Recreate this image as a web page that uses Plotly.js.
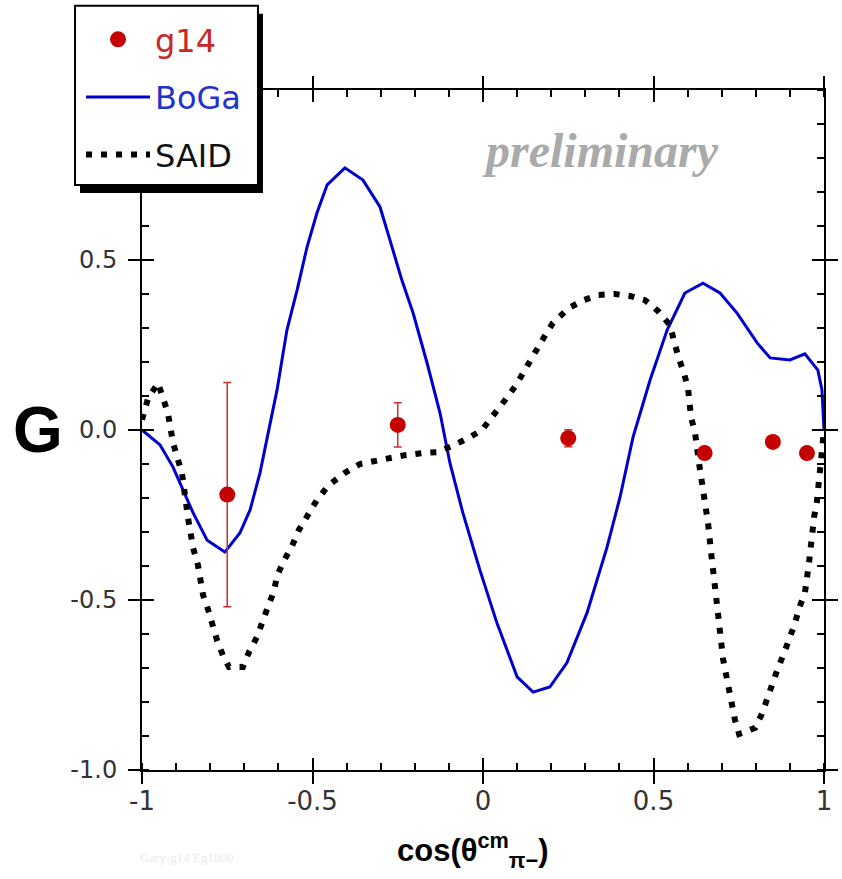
<!DOCTYPE html>
<html><head><meta charset="utf-8">
<script src="https://cdn.plot.ly/plotly-3.0.1.min.js"></script>
<style>html,body{margin:0;padding:0;background:#fff}</style>
</head><body><div id="chart" style="width:842px;height:879px"></div>
<script>
// ---- data ----
const g14Cos = [-0.75, -0.25, 0.25, 0.65, 0.85, 0.95];
const g14G   = [-0.19, 0.015, -0.024, -0.068, -0.035, -0.068];
const g14Err = [0.33, 0.065, 0.025, 0.008, 0.006, 0.006];

const bogaCos = [-1.0,-0.947,-0.909,-0.880,-0.850,-0.809,-0.757,-0.713,-0.683,-0.654,-0.633,-0.604,-0.575,-0.545,-0.516,-0.487,-0.457,-0.405,-0.352,-0.302,-0.273,-0.238,-0.205,-0.164,-0.126,-0.097,-0.059,-0.009,0.041,0.100,0.147,0.196,0.246,0.305,0.364,0.402,0.440,0.490,0.540,0.592,0.645,0.695,0.745,0.804,0.842,0.900,0.944,0.982,0.994,1.0];
const bogaG   = [0.0,-0.044,-0.109,-0.176,-0.244,-0.324,-0.359,-0.303,-0.235,-0.126,-0.021,0.118,0.294,0.412,0.538,0.638,0.721,0.771,0.735,0.656,0.559,0.441,0.344,0.197,0.050,-0.097,-0.244,-0.412,-0.568,-0.726,-0.771,-0.756,-0.685,-0.538,-0.344,-0.197,-0.021,0.147,0.294,0.403,0.432,0.403,0.344,0.256,0.212,0.206,0.224,0.176,0.118,0.0];

const saidCos = [-1.0,-0.982,-0.953,-0.938,-0.924,-0.909,-0.897,-0.883,-0.865,-0.850,-0.836,-0.821,-0.806,-0.795,-0.780,-0.762,-0.745,-0.704,-0.686,-0.663,-0.645,-0.630,-0.613,-0.604,-0.584,-0.560,-0.540,-0.513,-0.487,-0.452,-0.405,-0.361,-0.317,-0.273,-0.229,-0.179,-0.135,-0.091,-0.047,-0.003,0.035,0.067,0.097,0.123,0.150,0.176,0.205,0.252,0.296,0.337,0.387,0.431,0.475,0.513,0.548,0.560,0.572,0.587,0.601,0.610,0.622,0.633,0.648,0.660,0.669,0.677,0.689,0.704,0.721,0.739,0.751,0.798,0.818,0.833,0.850,0.865,0.883,0.900,0.915,0.927,0.944,0.956,0.965,0.971,0.979,0.988,0.994,1.0];
const saidG   = [0.03,0.094,0.138,0.094,0.050,-0.038,-0.082,-0.126,-0.259,-0.347,-0.397,-0.485,-0.529,-0.574,-0.618,-0.665,-0.697,-0.697,-0.653,-0.609,-0.565,-0.518,-0.474,-0.429,-0.385,-0.341,-0.294,-0.253,-0.206,-0.162,-0.126,-0.100,-0.091,-0.079,-0.074,-0.068,-0.065,-0.047,-0.026,0.0,0.047,0.091,0.132,0.179,0.224,0.268,0.315,0.359,0.382,0.397,0.400,0.394,0.382,0.350,0.309,0.262,0.218,0.174,0.126,0.038,-0.009,-0.094,-0.182,-0.274,-0.362,-0.450,-0.538,-0.674,-0.762,-0.853,-0.894,-0.876,-0.835,-0.788,-0.747,-0.700,-0.656,-0.612,-0.568,-0.524,-0.479,-0.391,-0.300,-0.256,-0.212,-0.124,-0.035,0.0];

const xTickVals = [-1, -0.5, 0, 0.5, 1];
const xTickText = ['-1', '-0.5', '0', '0.5', '1'];
const yTickVals = [-1, -0.5, 0, 0.5];
const yTickText = ['-1.0', '-0.5', '0.0', '0.5'];

const traces = [
  {x: bogaCos, y: bogaG, type: 'scatter', mode: 'lines', name: '<span style="color:#2233cc">BoGa</span>',
   line: {color: '#0000cc', width: 3}, legendgroup: 'b', legendrank: 2, hoverinfo: 'skip'},
  {x: saidCos, y: saidG, type: 'scatter', mode: 'lines', name: '<span style="color:#111">SAID</span>',
   line: {color: '#000', width: 6, dash: '6px,9px'}, legendgroup: 's', legendrank: 3, hoverinfo: 'skip'},
  {x: g14Cos, y: g14G, type: 'scatter', mode: 'markers', name: '<span style="color:#c82828">g14</span>',
   marker: {color: '#c40000', size: 16, symbol: 'circle'},
   error_y: {type: 'data', array: g14Err, visible: true, color: '#c83030', thickness: 1.5, width: 4},
   legendgroup: 'g', legendrank: 1, hoverinfo: 'skip'},
  {x: [], y: [], xaxis: 'x2', yaxis: 'y2', type: 'scatter', showlegend: false, hoverinfo: 'skip'}
];

const axCommon = {
  showgrid: false, zeroline: false, showline: true, linecolor: '#000', linewidth: 2,
  mirror: 'allticks', ticks: 'outside', ticklen: 12, tickwidth: 2, tickcolor: '#000',
  minor: {ticks: 'inside', ticklen: 7, tickwidth: 2, tickcolor: '#000', dtick: 0.1, showgrid: false}
};
const overCommon = {
  showgrid: false, zeroline: false, showline: false, showticklabels: false,
  mirror: 'ticks', ticks: 'inside', ticklen: 12, tickwidth: 2, tickcolor: '#000',
  tickmode: 'linear', tick0: 0, dtick: 0.5
};

const layout = {
  width: 842, height: 879,
  margin: {l: 142, r: 18, t: 90, b: 109, autoexpand: false},
  paper_bgcolor: '#fff', plot_bgcolor: '#fff',
  showlegend: true,
  xaxis: Object.assign({}, axCommon, {range: [-1, 1], tickmode: 'array', tickvals: xTickVals, ticktext: xTickText,
    tickfont: {family: 'DejaVu Sans', size: 26, color: '#333'}, ticklabelstandoff: -5}),
  yaxis: Object.assign({}, axCommon, {range: [-1, 1], tickmode: 'array', tickvals: yTickVals, ticktext: yTickText,
    tickfont: {family: 'DejaVu Sans', size: 24, color: '#333'}, ticklabelstandoff: 6}),
  xaxis2: Object.assign({}, overCommon, {range: [-1, 1], overlaying: 'x', anchor: 'y2'}),
  yaxis2: Object.assign({}, overCommon, {range: [-1, 1], overlaying: 'y', anchor: 'x2'}),
  legend: {
    x: -0.0894, y: 1.1147, xanchor: 'left', yanchor: 'top',
    bgcolor: 'rgba(0,0,0,0)', borderwidth: 0,
    font: {family: 'DejaVu Sans', size: 32, color: '#000'},
    itemwidth: 64, tracegroupgap: 13, traceorder: 'grouped'
  },
  annotations: [
    {text: 'G', xref: 'paper', yref: 'paper', x: -0.1525, y: 0.5, xanchor: 'center', yanchor: 'middle',
     showarrow: false, font: {family: 'Liberation Sans', size: 64, color: '#000', weight: 'bold'}},
    {text: '<b><i>preliminary</i></b>', xref: 'paper', yref: 'paper', x: 0.6716, y: 0.911, xanchor: 'center', yanchor: 'middle',
     showarrow: false, font: {family: 'Liberation Serif', size: 48, color: '#aaaaaa'}},
    {text: '<b>cos(θ<sup>cm</sup><sub>π−</sub>)</b>', xref: 'paper', yref: 'paper', x: 0.485, y: -0.118, xanchor: 'center', yanchor: 'middle',
     showarrow: false, font: {family: 'Liberation Sans', size: 31, color: '#000'}},
    {text: 'Gary-g14 Eg1800', xref: 'paper', yref: 'paper', x: 0.066, y: -0.128, xanchor: 'center', yanchor: 'middle',
     showarrow: false, font: {family: 'Liberation Serif', size: 13, color: '#ebebeb'}}
  ]
};

Plotly.newPlot('chart', traces, layout, {displayModeBar: false, staticPlot: true}).then(function (gd) {
  // legend frame + drop shadow, sized from the drawn legend entries
  const root = gd.getBoundingClientRect();
  const rel = function (el) {
    const r = el.getBoundingClientRect();
    return {l: r.left - root.left, t: r.top - root.top, r: r.right - root.left, b: r.bottom - root.top};
  };
  const texts = Array.from(gd.querySelectorAll('.legend .legendtext')).map(rel);
  const syms = Array.from(gd.querySelectorAll('.legend .legendlines path, .legend .legendpoints path')).map(rel)
    .filter(function (b) { return b.r > b.l; });
  if (!texts.length || !syms.length) return;
  const centers = texts.map(function (b) { return (b.t + b.b) / 2; });
  const top = Math.min.apply(null, centers) - 35;
  const bottom = Math.max.apply(null, centers) + 29;
  const left = Math.min.apply(null, syms.map(function (b) { return b.l; })) - 11;
  const right = Math.max.apply(null, texts.map(function (b) { return b.r; })) + 17;
  const sz = gd._fullLayout._size;
  const toPX = function (px) { return (px - sz.l) / sz.w; };
  const toPY = function (py) { return 1 - (py - sz.t) / sz.h; };
  Plotly.relayout(gd, {shapes: [
    {type: 'rect', xref: 'paper', yref: 'paper', layer: 'above',
     x0: toPX(left + 5), x1: toPX(right + 5), y0: toPY(bottom + 8), y1: toPY(top + 8),
     fillcolor: '#000', line: {width: 0}},
    {type: 'rect', xref: 'paper', yref: 'paper', layer: 'above',
     x0: toPX(left), x1: toPX(right), y0: toPY(bottom), y1: toPY(top),
     fillcolor: '#fff', line: {color: '#000', width: 2}}
  ]});
});
</script>
</body></html>
